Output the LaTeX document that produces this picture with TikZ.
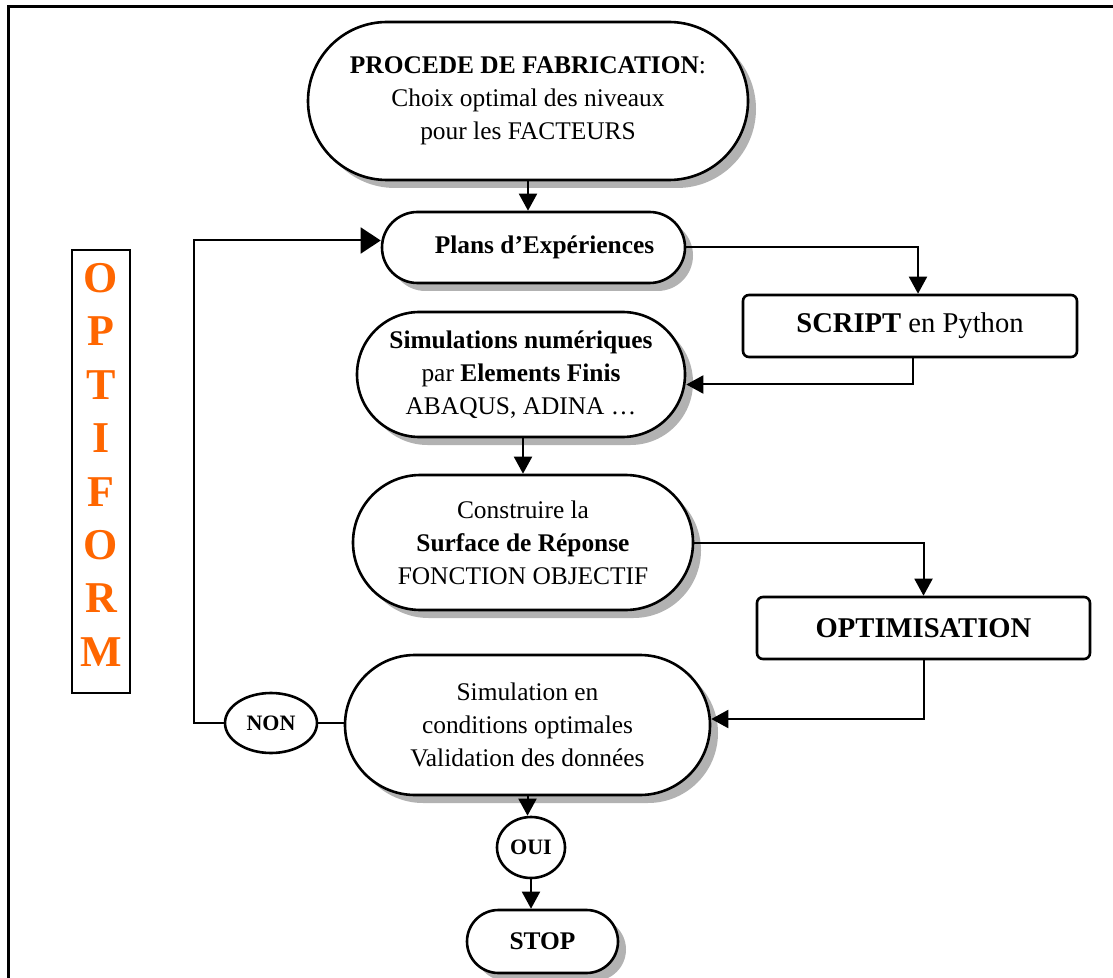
\documentclass[tikz,border=0pt]{standalone}
\usepackage{fontspec}
\setmainfont{Liberation Serif}
\usetikzlibrary{shapes.geometric,shadows,arrows.meta}
\definecolor{optorange}{HTML}{FF6600}
\begin{document}
\begin{tikzpicture}[x=0.5pt,y=-0.5pt,line width=1pt,
	every node/.style={align=center,font=\fontsize{12.7}{16.5}\selectfont},
	stade/.style={draw,line width=1.3pt,fill=white,rounded corners=#1,minimum height=2*#1,
		drop shadow={shadow xshift=4pt,shadow yshift=-4pt,fill=gray!60,opacity=1}},
	boite/.style={draw,line width=1.3pt,fill=white,rounded corners=3pt,minimum height=31pt},
	bulle/.style={ellipse,draw,line width=1.3pt,inner sep=0pt,font=\fontsize{11}{13}\selectfont\bfseries},
	fl/.style={-{Triangle[length=8.5pt,width=9pt]}},
	flg/.style={-{Triangle[length=10pt,width=13pt]}}]
	\useasboundingbox (0,0) rectangle (1113,978);
	\draw[line width=1.5pt] (8,978)--(8,7)--(1113,7);
	\draw[line width=0.8pt] (72,250) rectangle (130,693);
	\foreach \l [count=\i from 0] in {O,P,T,I,F,O,R,M} \path
		(101,278+53.4*\i) node[font=\fontsize{22}{24}\selectfont\bfseries,text=optorange](let\i){\l};
	\node[stade=39.5pt,minimum width=220pt] (proc) at (528,101)
		{\textbf{PROCEDE DE FABRICATION}:\\Choix optimal des niveaux\\pour les FACTEURS};
	\node[stade=17.75pt,minimum width=151.5pt] (plans) at (533.5,247.5) {\hspace*{11pt}\textbf{Plans d’Expériences}};
	\node[boite,minimum width=167pt,font=\fontsize{14.3}{17}\selectfont] (script) at (910,326)
		{\textbf{SCRIPT} en Python};
	\node[stade=31.25pt,minimum width=164pt] (simu) at (521,374.5)
		{\textbf{Simulations numériques}\\par \textbf{Elements Finis}\\ABAQUS, ADINA …};
	\node[stade=33.75pt,minimum width=170pt] (surf) at (523,542.5)
		{Construire la\\\textbf{Surface de Réponse}\\FONCTION OBJECTIF};
	\node[boite,minimum width=166.5pt,font=\fontsize{14.3}{17}\selectfont\bfseries] (optim) at (923.5,628)
		{OPTIMISATION};
	\node[stade=35pt,minimum width=182.5pt] (valid) at (527.5,725)
		{Simulation en\\conditions optimales\\Validation des données};
	\node[bulle,minimum width=46pt,minimum height=30pt] (non) at (271,723) {NON};
	\node[bulle,minimum width=34pt,minimum height=30.5pt] (oui) at (531,847.5) {OUI};
	\node[stade=15.75pt,minimum width=75.5pt,font=\fontsize{12.7}{15}\selectfont\bfseries] (stop) at (542.5,941.5)
		{STOP};
	\draw[fl] (proc.south)--(proc.south |- plans.north);
	\draw[fl] (plans.east) -| ([xshift=4pt]script.north);
	\draw[fl] ([xshift=1.5pt]script.south) |- ([yshift=-5pt]simu.east);
	\draw[fl] (simu.south -| surf.north)--(surf.north);
	\draw[fl] (surf.east) -| (optim.north);
	\draw[fl] (optim.south) |- ([yshift=3pt]valid.east);
	\draw (non.east)--(non.east -| valid.west);
	\draw[flg] (non.west)--++(-15pt,0) |- ([yshift=3.5pt]plans.west);
	\draw[fl] (valid.south)--(valid.south |- oui.north);
	\draw[fl] (oui.south)--(oui.south |- stop.north);
\end{tikzpicture}
\end{document}
